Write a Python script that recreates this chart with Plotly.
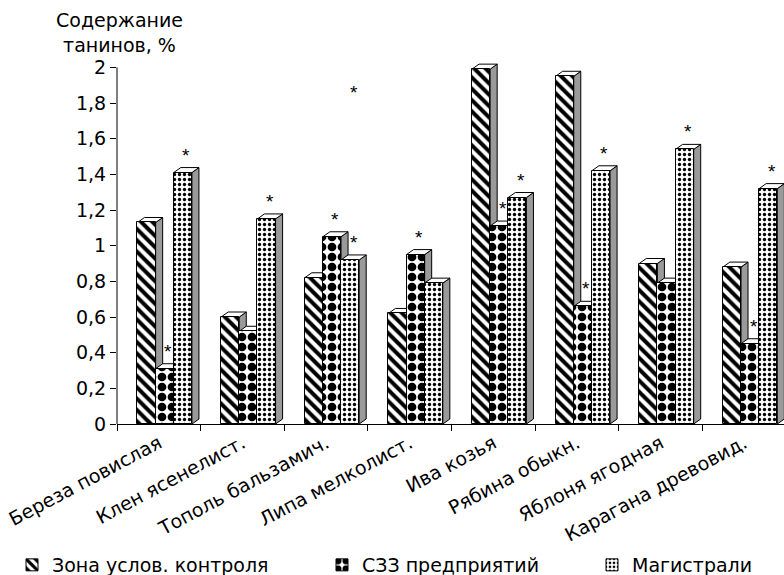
import plotly.graph_objects as go

categories = ["Береза повислая", "Клен ясенелист.", "Тополь бальзамич.", "Липа мелколист.",
              "Ива козья", "Рябина обыкн.", "Яблоня ягодная", "Карагана древовид."]
series_names = ["Зона услов. контроля", "СЗЗ предприятий", "Магистрали"]
zone = [1.13, 0.60, 0.82, 0.62, 1.99, 1.95, 0.90, 0.88]
szz = [0.31, 0.52, 1.05, 0.95, 1.11, 0.66, 0.79, 0.45]
mag = [1.41, 1.15, 0.92, 0.79, 1.27, 1.42, 1.54, 1.32]
# significance marks (*) per bar
zone_star = [0, 0, 0, 0, 0, 0, 0, 0]
szz_star = [1, 0, 1, 1, 1, 1, 0, 1]
mag_star = [1, 1, 1, 0, 1, 1, 1, 1]
extra_star_category = "Тополь бальзамич."
extra_star_value = 1.88
y_tickvals = [0, 0.2, 0.4, 0.6, 0.8, 1.0, 1.2, 1.4, 1.6, 1.8, 2.0]
y_ticktext = ["0", "0,2", "0,4", "0,6", "0,8", "1", "1,2", "1,4", "1,6", "1,8", "2"]

FONT = "DejaVu Sans"
FS = 19
W = 0.217                     # bar width (category units)
OFFS = [-0.255, -0.038, 0.179]  # left edge of each series' bar
DX = 0.084                    # 3D depth, x
DY = 0.028                    # 3D depth, y
patterns = [
    dict(shape="\\", size=8, solidity=0.5, fgcolor="#000000", bgcolor="#ffffff", fgopacity=1),
    dict(shape=".", size=10, solidity=0.6, fgcolor="#000000", bgcolor="#ffffff", fgopacity=1),
    dict(shape=".", size=5, solidity=0.35, fgcolor="#000000", bgcolor="#ffffff", fgopacity=1),
]
series = [zone, szz, mag]
stars = [zone_star, szz_star, mag_star]
xs = list(range(len(categories)))

fig = go.Figure()
legend_ids = ["legend", "legend2", "legend3"]
for s, vals in enumerate(series):
    fig.add_trace(go.Bar(
        x=xs, y=vals, name=series_names[s], width=W, offset=OFFS[s],
        marker=dict(color="white", pattern=patterns[s], line=dict(color="black", width=1)),
        legend=legend_ids[s], hoverinfo="skip",
    ))

shapes = []
for i in xs:
    for s, vals in enumerate(series):
        v = vals[i]
        l = i + OFFS[s]
        r = l + W
        side = f"M {r},0 L {r+DX},{DY} L {r+DX},{v+DY} L {r},{v} Z"
        top = f"M {l},{v} L {l+DX},{v+DY} L {r+DX},{v+DY} L {r},{v} Z"
        shapes.append(dict(type="path", path=side, xref="x", yref="y", layer="below",
                           fillcolor="#9a9a9a", line=dict(color="black", width=1)))
        shapes.append(dict(type="path", path=top, xref="x", yref="y", layer="below",
                           fillcolor="white", line=dict(color="black", width=1)))
# y axis line from 0 to 2
shapes.append(dict(type="line", xref="paper", yref="y", x0=0, x1=0, y0=0, y1=y_tickvals[-1],
                   line=dict(color="black", width=1)))

STAR_FONT = dict(family="Liberation Sans", size=19, color="#000000")
annotations = []
for i in xs:
    for s, vals in enumerate(series):
        if stars[s][i]:
            annotations.append(dict(x=i + OFFS[s] + W / 2 + DX / 2, y=vals[i] + DY, xref="x", yref="y",
                                    text="*", showarrow=False, yanchor="bottom", yshift=0,
                                    font=STAR_FONT))
ei = categories.index(extra_star_category)
annotations.append(dict(x=ei + OFFS[2] + W / 2 + DX / 2, y=extra_star_value, xref="x", yref="y",
                        text="*", showarrow=False, yanchor="middle", yshift=-4,
                        font=STAR_FONT))
annotations.append(dict(x=0.003, y=1.0 + (62 - 32) / 362, xref="paper", yref="paper",
                        text="Содержание<br>танинов, %", showarrow=False,
                        xanchor="center", yanchor="middle", align="center",
                        font=dict(family=FONT, size=FS, color="black")))

fig.update_layout(
    width=784, height=575,
    margin=dict(l=117, r=0, t=62, b=151, autoexpand=False),
    plot_bgcolor="white", paper_bgcolor="white",
    barmode="overlay", bargap=0,
    font=dict(family=FONT, size=FS, color="black"),
    shapes=shapes, annotations=annotations,
    showlegend=True,
)
leg_common = dict(orientation="h", xref="container", yref="container", yanchor="top",
                  y=1 - 546 / 575, font=dict(family=FONT, size=FS, color="black"),
                  bgcolor="rgba(0,0,0,0)")
fig.update_layout(
    legend=dict(x=12 / 784, **leg_common),
    legend2=dict(x=322 / 784, **leg_common),
    legend3=dict(x=592 / 784, **leg_common),
)
fig.update_xaxes(
    range=[-0.5, 7.5 - 2 / 83.6], tickmode="array", tickvals=xs, ticktext=categories,
    tickangle=-28, ticks="", showline=True, linecolor="black", linewidth=1,
    showgrid=False, zeroline=False, automargin=False,
    minor=dict(tickmode="array", tickvals=[i - 0.5 for i in xs], ticks="outside",
               ticklen=6, tickcolor="black", showgrid=False),
    tickfont=dict(family=FONT, size=FS, color="black"),
)
fig.update_yaxes(
    range=[0, 2.03], tickmode="array", tickvals=y_tickvals, ticktext=y_ticktext,
    ticks="outside", ticklen=6, tickcolor="black", showline=False, showgrid=False,
    zeroline=False, automargin=False, tickfont=dict(family=FONT, size=FS, color="black"),
)
fig.write_html("out.html", config={"displayModeBar": False},
               post_script="document.body.style.margin='0';document.body.style.padding='0';")
